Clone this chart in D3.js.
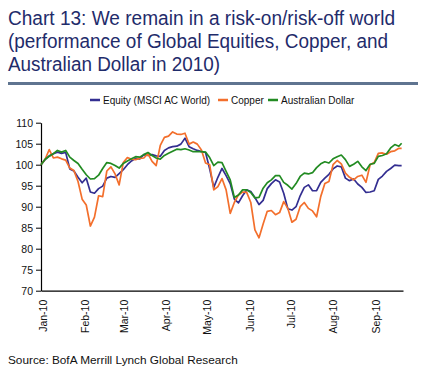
<!DOCTYPE html>
<html>
<head>
<meta charset="utf-8">
<script src="https://cdn.jsdelivr.net/npm/d3@7"></script>
<style>
  html, body { margin: 0; padding: 0; background: #fff; }
  svg { display: block; font-family: Arial, "Liberation Sans", sans-serif; }
</style>
</head>
<body>
<div id="app"></div>
<script>
// every third calendar day
var dates = [
  "2010-01-01","2010-01-04","2010-01-07","2010-01-10","2010-01-13","2010-01-16","2010-01-19","2010-01-22","2010-01-25","2010-01-28",
  "2010-01-31","2010-02-03","2010-02-06","2010-02-09","2010-02-12","2010-02-15","2010-02-18","2010-02-21","2010-02-24","2010-02-27",
  "2010-03-02","2010-03-05","2010-03-08","2010-03-11","2010-03-14","2010-03-17","2010-03-20","2010-03-23","2010-03-26","2010-03-29",
  "2010-04-01","2010-04-04","2010-04-07","2010-04-10","2010-04-13","2010-04-16","2010-04-19","2010-04-22","2010-04-25","2010-04-28",
  "2010-05-01","2010-05-04","2010-05-07","2010-05-10","2010-05-13","2010-05-16","2010-05-19","2010-05-22","2010-05-25","2010-05-28",
  "2010-05-31","2010-06-03","2010-06-06","2010-06-09","2010-06-12","2010-06-15","2010-06-18","2010-06-21","2010-06-24","2010-06-27",
  "2010-06-30","2010-07-03","2010-07-06","2010-07-09","2010-07-12","2010-07-15","2010-07-18","2010-07-21","2010-07-24","2010-07-27",
  "2010-07-30","2010-08-02","2010-08-05","2010-08-08","2010-08-11","2010-08-14","2010-08-17","2010-08-20","2010-08-23","2010-08-26",
  "2010-08-29","2010-09-01","2010-09-04","2010-09-07","2010-09-10","2010-09-13","2010-09-16","2010-09-19","2010-09-21"
];
var equity = [
  100.0,101.2,102.1,102.6,103.0,102.7,102.9,99.0,98.5,97.0,
  95.7,96.8,93.5,93.2,94.3,94.9,96.8,97.2,97.0,97.9,
  98.8,100.0,100.9,101.5,101.4,102.4,102.2,102.4,102.1,102.0,
  103.4,104.0,104.3,104.4,104.9,106.3,104.3,103.8,103.4,103.1,
  102.9,99.0,94.6,97.0,99.1,97.4,95.5,91.8,90.9,92.6,
  94.0,93.6,92.2,90.5,91.5,94.3,95.5,96.4,95.9,93.2,
  89.5,89.2,90.0,92.6,94.6,95.2,93.8,93.8,95.8,96.8,
  97.7,99.0,99.7,99.5,96.8,96.2,96.6,95.4,94.6,93.4,
  93.5,93.8,96.5,97.3,98.4,99.1,99.9,99.8,99.8
];
var copper = [
  100.0,101.3,103.6,101.6,101.8,101.4,101.1,99.2,98.6,96.0,
  91.8,90.4,85.4,87.5,92.6,92.4,98.5,99.5,97.8,95.2,
  100.5,101.7,101.3,101.2,101.5,101.6,102.6,100.8,99.8,104.6,
  106.5,106.8,107.8,107.3,107.2,107.5,104.9,105.4,104.9,103.5,
  100.4,100.0,94.0,94.8,96.7,94.0,88.4,91.0,92.8,93.5,
  93.4,91.0,84.5,82.6,85.9,88.9,89.1,88.1,88.6,91.2,
  89.6,86.3,87.0,90.0,91.0,89.6,89.0,87.6,92.4,95.5,
  96.0,100.0,101.0,100.2,98.0,97.0,96.4,97.2,97.5,95.8,
  100.0,100.5,102.7,102.8,102.5,103.1,103.3,103.9,103.9
];
var aud = [
  100.0,101.3,102.0,102.6,103.4,103.0,103.4,101.8,101.0,100.3,
  98.9,97.6,96.6,96.7,97.5,99.1,100.5,100.3,99.8,99.2,
  100.3,100.9,101.4,101.9,101.8,102.4,102.9,102.2,101.6,101.3,
  102.2,102.7,103.2,103.7,103.6,103.8,103.5,103.1,103.1,103.1,
  103.0,101.7,99.8,100.6,100.5,98.4,96.4,92.2,92.8,94.0,
  94.0,93.4,92.1,92.2,94.4,95.7,96.4,97.4,97.4,95.8,
  95.1,94.2,95.5,97.2,98.0,97.8,98.1,99.3,100.2,100.7,
  100.4,101.4,101.9,102.3,101.2,99.6,100.1,100.8,99.5,98.6,
  100.1,100.3,102.0,102.2,102.6,104.0,104.8,104.4,105.1
];
var seriesNames = ["Equity (MSCI AC World)", "Copper", "Australian Dollar"];
var seriesColors = ["#332e91", "#f36f2c", "#228b22"];
var yTicks = [70, 75, 80, 85, 90, 95, 100, 105, 110];
var titleLines = [
  "Chart 13: We remain in a risk-on/risk-off world",
  "(performance of Global Equities, Copper, and",
  "Australian Dollar in 2010)"
];
var sourceText = "Source: BofA Merrill Lynch Global Research";

var width = 427, height = 381;
var parse = d3.timeParse("%Y-%m-%d");
var days = dates.map(parse);

var svg = d3.select("#app").append("svg").attr("width", width).attr("height", height);

// title block
var titleWidths = [387, 380, 212];
svg.selectAll("text.title").data(titleLines).enter().append("text")
  .attr("class", "title")
  .attr("x", 8)
  .attr("y", function (d, i) { return 24.5 + i * 23; })
  .attr("textLength", function (d, i) { return titleWidths[i]; })
  .attr("lengthAdjust", "spacingAndGlyphs")
  .style("font-family", "'Liberation Sans Narrow', 'Arial Narrow', Arial, 'Liberation Sans', sans-serif")
  .style("font-size", "20px")
  .style("fill", "#1f2c6b")
  .text(function (d) { return d; });
svg.append("line").attr("x1", 8).attr("x2", 418).attr("y1", 83.5).attr("y2", 83.5)
  .attr("stroke", "#5f7490").attr("stroke-width", 3);

var x = d3.scaleTime().domain([new Date(2010, 0, 1), new Date(2010, 8, 22)]).range([41, 403]);
var y = d3.scaleLinear().domain([70, 110]).range([290.7, 122.7]);

// y axis
var gy = svg.append("g").attr("transform", "translate(41,0)")
  .call(d3.axisLeft(y).tickValues(yTicks).tickSize(5).tickSizeOuter(0).tickPadding(3));
gy.selectAll("text").style("font-size", "10.5px").style("font-family", "Arial, 'Liberation Sans', sans-serif").attr("fill", "#111");

// x axis
var gx = svg.append("g").attr("transform", "translate(0,290.7)")
  .call(d3.axisBottom(x).ticks(d3.timeMonth.every(1)).tickSize(0).tickSizeOuter(0).tickFormat(d3.timeFormat("%b-%y")));
gx.selectAll("text")
  .attr("transform", "rotate(-90)")
  .attr("text-anchor", "end")
  .attr("x", -9)
  .attr("y", 1.5)
  .attr("dy", "0.35em")
  .style("font-size", "10.5px")
  .style("font-family", "Arial, 'Liberation Sans', sans-serif")
  .attr("fill", "#111");
svg.selectAll(".domain").attr("stroke", "#000").attr("stroke-width", 1.2);

// lines
var line = d3.line()
  .x(function (d, i) { return x(days[i]); })
  .y(function (d) { return y(d); });
var allSeries = [equity, copper, aud];
svg.selectAll("path.series").data(allSeries).enter().append("path")
  .attr("class", "series")
  .attr("fill", "none")
  .attr("stroke", function (d, i) { return seriesColors[i]; })
  .attr("stroke-width", 1.7)
  .attr("stroke-linejoin", "round")
  .attr("d", line);

// legend
var legendX = [90, 218, 268];
var lg = svg.append("g").attr("transform", "translate(0,100)");
seriesNames.forEach(function (name, i) {
  lg.append("line").attr("x1", legendX[i]).attr("x2", legendX[i] + 10).attr("y1", 0).attr("y2", 0)
    .attr("stroke", seriesColors[i]).attr("stroke-width", 2.5);
  lg.append("text").attr("x", legendX[i] + 13).attr("y", 3.6)
    .style("font-size", "10px").attr("fill", "#111").text(name);
});

// source
svg.append("text").attr("x", 8).attr("y", 363.5)
  .style("font-size", "11.8px").attr("fill", "#111").text(sourceText);
</script>
</body>
</html>
